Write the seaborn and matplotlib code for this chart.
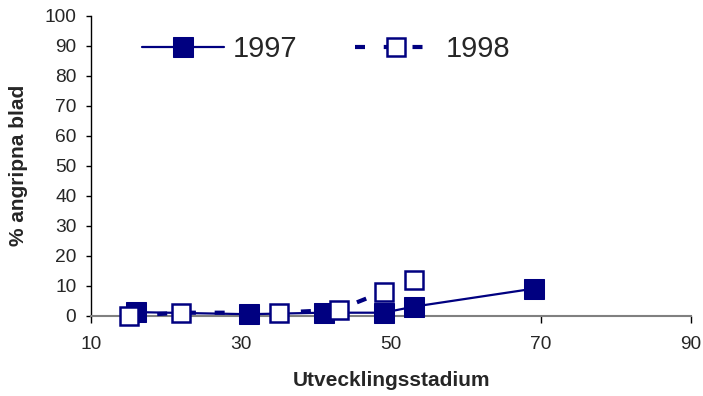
import matplotlib
matplotlib.use("Agg")
import matplotlib.pyplot as plt
import seaborn as sns
import pandas as pd

x1997 = [16, 31, 41, 49, 53, 69]
y1997 = [1.2, 0.5, 1, 1, 3, 9]
x1998 = [15, 22, 35, 43, 49, 53]
y1998 = [0, 1, 1, 2, 8, 12]
xticks = [10, 30, 50, 70, 90]
yticks = list(range(0, 101, 10))

sns.set_style("white")
plt.rcParams['font.family'] = ['Liberation Sans', 'DejaVu Sans']

fig = plt.figure(figsize=(7.03, 3.96), dpi=100)
ax = fig.add_axes([91/703, 1-315.7/396, 600/703, 300/396])

navy = "#000080"
df97 = pd.DataFrame({"x": x1997, "y": y1997})
df98 = pd.DataFrame({"x": x1998, "y": y1998})
sns.lineplot(data=df97, x="x", y="y", ax=ax, color=navy, lw=1.6, marker="s",
             markersize=14, markerfacecolor=navy, markeredgecolor=navy,
             label="1997", sort=False, clip_on=False, zorder=3)
sns.lineplot(data=df98, x="x", y="y", ax=ax, color=navy, lw=3, marker="s",
             markersize=13, markerfacecolor="white", markeredgecolor=navy,
             markeredgewidth=1.8, label="1998", sort=False, clip_on=False, zorder=4)
ax.lines[-1].set_dashes([2.4, 4.5])

ax.set_xlim(10, 90)
ax.set_ylim(0, 100)
ax.set_xticks(xticks)
ax.set_yticks(yticks)
ax.tick_params(axis='both', labelsize=13.8, direction='out', color='black',
               left=True, bottom=True, width=1)
ax.tick_params(axis='x', length=5, pad=9.5)
ax.tick_params(axis='y', length=3.6, pad=7)
ax.set_xlabel("Utvecklingsstadium", fontsize=15, fontweight='bold')
ax.set_ylabel("% angripna blad", fontsize=15, fontweight='bold')
ax.xaxis.set_label_coords(0.5, -0.185)
ax.yaxis.set_label_coords(-0.105, 0.5)
for s in ["top", "right"]:
    ax.spines[s].set_visible(False)
ax.spines["left"].set_color("black")
ax.spines["bottom"].set_color("#808080")
ax.spines["left"].set_linewidth(1)
ax.spines["bottom"].set_linewidth(1.5)
ax.grid(False)

ax.legend(loc="upper left", bbox_to_anchor=(0.085, 0.935), ncol=2, frameon=False,
          fontsize=21, handlelength=2.8, columnspacing=2.0, handletextpad=0.3,
          borderpad=0, borderaxespad=0)

fig.savefig("out.png", dpi=100)
